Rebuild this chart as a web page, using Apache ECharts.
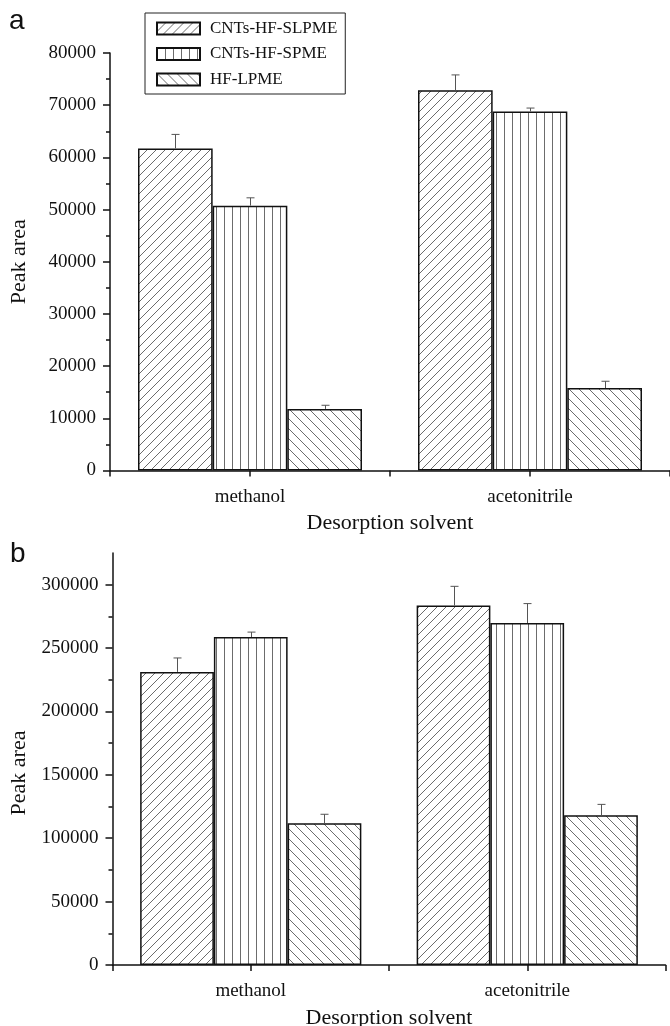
<!DOCTYPE html>
<html><head><meta charset="utf-8">
<script src="https://cdn.jsdelivr.net/npm/echarts@6/dist/echarts.min.js"></script>
<style>html,body{margin:0;padding:0;background:#fff}#c{width:670px;height:1026px}</style>
</head><body><div id="c"></div>
<script>
// ---- data ----
const categories = ['methanol', 'acetonitrile'];
const seriesNames = ['CNTs-HF-SLPME', 'CNTs-HF-SPME', 'HF-LPME'];
// panel a
const aSLPME = [61700, 72850];
const aSPME = [50750, 68800];
const aLPME = [11800, 15800];
const aSLPMEerr = [2700, 2950];
const aSPMEerr = [1500, 650];
const aLPMEerr = [700, 1300];
// panel b
const bSLPME = [231200, 283600];
const bSPME = [258700, 269700];
const bLPME = [111800, 118100];
const bSLPMEerr = [11000, 15100];
const bSPMEerr = [3900, 15400];
const bLPMEerr = [7100, 8600];
// tick labels
const aTicks = [0, 10000, 20000, 30000, 40000, 50000, 60000, 70000, 80000];
const aMinor = [5000, 15000, 25000, 35000, 45000, 55000, 65000, 75000];
const bTicks = [0, 50000, 100000, 150000, 200000, 250000, 300000];
const bMinor = [25000, 75000, 125000, 175000, 225000, 275000];
const xName = 'Desorption solvent';
const yName = 'Peak area';

// ---- styles ----
const SERIF = '"Liberation Serif", "Times New Roman", serif';
function hatch(type, p) {
  const c = document.createElement('canvas');
  c.width = p; c.height = p;
  const g = c.getContext('2d');
  g.fillStyle = '#fff'; g.fillRect(0, 0, p, p);
  g.strokeStyle = '#6c6c6c'; g.lineWidth = 1;
  g.beginPath();
  if (type === 'v') { g.moveTo(0.5, 0); g.lineTo(0.5, p); }
  else if (type === '/') { for (const k of [-1, 0, 1]) { g.moveTo(k * p, p); g.lineTo(k * p + p, 0); } }
  else { for (const k of [-1, 0, 1]) { g.moveTo(k * p, 0); g.lineTo(k * p + p, p); } }
  g.stroke();
  return { image: c, repeat: 'repeat' };
}
const fills = [hatch('/', 9), hatch('v', 8), hatch('\\', 10)];

function renderErr(params, api) {
  const cat = api.value(0), si = api.value(1), v = api.value(2), e = api.value(3);
  const band = api.size([1, 0])[0];
  const bw = band * 0.8 / 3;
  const base = api.coord([cat, v]);
  const top = api.coord([cat, v + e]);
  const x = Math.round(base[0] + (si - 1) * bw) + 0.5;
  const half = 4;
  return { type: 'group', children: [
    { type: 'line', shape: { x1: x, y1: base[1], x2: x, y2: top[1] }, style: { stroke: '#555', lineWidth: 1 } },
    { type: 'line', shape: { x1: x - half, y1: top[1], x2: x + half, y2: top[1] }, style: { stroke: '#555', lineWidth: 1 } }
  ]};
}

function errData(vals, errs) {
  const out = [];
  vals.forEach((arr, si) => arr.forEach((v, ci) => out.push([ci, si, v, errs[si][ci]])));
  return out;
}

const axisLineStyle = { color: '#111', width: 1.5 };
function xAxes(grid) {
  return [
    { type: 'category', gridIndex: grid, data: categories, position: 'bottom',
      axisLine: { show: true, lineStyle: axisLineStyle }, axisTick: { show: false },
      axisLabel: { fontFamily: SERIF, fontSize: 19, color: '#111', margin: 17 },
      name: xName, nameLocation: 'middle', nameGap: 42,
      nameTextStyle: { fontFamily: SERIF, fontSize: 22, color: '#111' } },
    { type: 'value', gridIndex: grid, min: 0, max: 4, interval: 1, position: 'bottom', offset: 0,
      axisLine: { show: false }, axisLabel: { show: false }, splitLine: { show: false },
      axisTick: { show: true, length: 6, lineStyle: { color: '#111', width: 1.5 } } }
  ];
}
function yAxes(grid, max, ticks, minor, namePad) {
  return [
    { type: 'value', gridIndex: grid, min: 0, max: max, position: 'left',
      axisLine: { show: true, lineStyle: axisLineStyle },
      axisTick: { show: true, length: 7, customValues: ticks, lineStyle: { color: '#111', width: 1.5 } },
      axisLabel: { customValues: ticks, formatter: v => String(v), fontFamily: SERIF, fontSize: 19, color: '#111', margin: 14 },
      splitLine: { show: false },
      name: yName, nameLocation: 'middle', nameGap: 80, nameRotate: 90,
      nameTextStyle: { fontFamily: SERIF, fontSize: 22, color: '#111', padding: namePad } },
    { type: 'value', gridIndex: grid, min: 0, max: max, position: 'left', offset: 0,
      axisLine: { show: false }, axisLabel: { show: false }, splitLine: { show: false },
      axisTick: { show: true, length: 4, customValues: minor, lineStyle: { color: '#111', width: 1.5 } } }
  ];
}

function barSeries(xi, yi, vals) {
  return vals.map((arr, i) => ({
    type: 'bar', name: seriesNames[i], xAxisIndex: xi, yAxisIndex: yi, data: arr,
    barGap: 0, barCategoryGap: '20%',
    itemStyle: { color: fills[i], borderColor: '#111', borderWidth: 1.5 },
    emphasis: { disabled: true }, z: 2
  }));
}

const aVals = [aSLPME, aSPME, aLPME];
const aErrs = [aSLPMEerr, aSPMEerr, aLPMEerr];
const bVals = [bSLPME, bSPME, bLPME];
const bErrs = [bSLPMEerr, bSPMEerr, bLPMEerr];

const letterStyle = { fontFamily: '"Liberation Sans", Arial, sans-serif', fontSize: 28, fontWeight: 'normal', color: '#111' };
const option = {
  animation: false,
  backgroundColor: '#fff',
  title: [
    { text: 'a', left: 9, top: 7, padding: 0, textStyle: letterStyle },
    { text: 'b', left: 10, top: 540, padding: 0, textStyle: letterStyle }
  ],
  legend: {
    data: seriesNames.map(n => ({ name: n, icon: 'rect' })), orient: 'vertical', left: 145, top: 13,
    itemWidth: 43, itemHeight: 12, itemGap: 8.5,
    padding: [7, 8, 6, 11], borderColor: '#222', borderWidth: 1,
    textStyle: { fontFamily: SERIF, fontSize: 17, color: '#111', padding: [0, 0, 0, 5] },
    selectedMode: false
  },
  grid: [
    { left: 110, right: 0, top: 53, bottom: 555.5, outerBoundsMode: 'none', containLabel: false },
    { left: 112.5, right: 4.5, top: 553, bottom: 61, outerBoundsMode: 'none', containLabel: false }
  ],
  xAxis: [...xAxes(0), ...xAxes(1)],
  yAxis: [...yAxes(0, 80000, aTicks, aMinor, [0, 0, 0, 0]), ...yAxes(1, 325000, bTicks, bMinor, [0, 28, 0, 0])],
  series: [
    ...barSeries(0, 0, aVals),
    ...barSeries(2, 2, bVals),
    { type: 'custom', xAxisIndex: 0, yAxisIndex: 0, renderItem: renderErr, data: errData(aVals, aErrs), encode: { x: 0, y: 2 }, z: 5, silent: true },
    { type: 'custom', xAxisIndex: 2, yAxisIndex: 2, renderItem: renderErr, data: errData(bVals, bErrs), encode: { x: 0, y: 2 }, z: 5, silent: true }
  ]
};
echarts.init(document.getElementById('c')).setOption(option);
</script></body></html>
